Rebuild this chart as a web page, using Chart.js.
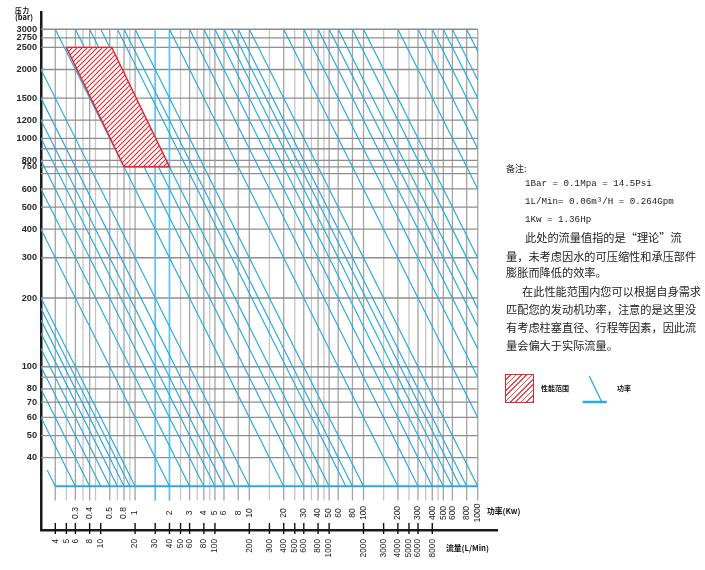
<!DOCTYPE html>
<html><head><meta charset="utf-8">
<script src="https://cdn.jsdelivr.net/npm/chart.js@4/dist/chart.umd.min.js"></script>
<style>
html,body{margin:0;padding:0;background:#fff;}
#wrap{position:relative;width:705px;height:570px;overflow:hidden;}
#c{position:absolute;left:0;top:0;}
.t{position:absolute;white-space:nowrap;color:#222;line-height:1;transform:translateY(-50%);}
.cjk{font-family:"Noto Sans CJK SC",sans-serif;font-size:11.2px;}
.mono{font-family:"Liberation Mono",monospace;font-size:9.2px;}
.lab{font-family:"Noto Sans CJK SC",sans-serif;font-weight:bold;font-size:7.8px;color:#111;}
#hbox{position:absolute;left:505px;top:374px;width:27px;height:27px;border:1.5px solid #e3262f;
 background:repeating-linear-gradient(135deg,#fff 0 2.6px,#ea4b53 2.6px 3.8px);}
#psym{position:absolute;left:580px;top:372px;}
</style></head><body>
<div id="wrap">
<canvas id="c" width="705" height="570"></canvas>
<div class="t lab" style="left:15px;top:10px;font-size:6.5px;letter-spacing:1px;">压力</div>
<div class="t lab" style="left:15px;top:17px;font-size:7.5px;">(bar)</div>
<div class="t lab" style="left:487px;top:511px;">功率(Kw)</div>
<div class="t lab" style="left:446px;top:548px;">流量(L/Min)</div>

<div class="t cjk" style="left:506px;top:168px;font-size:9px;">备注:</div>
<div class="t mono" style="left:525px;top:184px;">1Bar = 0.1Mpa = 14.5Psi</div>
<div class="t mono" style="left:525px;top:202px;">1L/Min= 0.06m³/H = 0.264Gpm</div>
<div class="t mono" style="left:525px;top:220px;">1Kw = 1.36Hp</div>
<div class="t cjk" style="left:525px;top:238px;">此处的流量值指的是“理论”流</div>
<div class="t cjk" style="left:506px;top:257px;">量，未考虑因水的可压缩性和承压部件</div>
<div class="t cjk" style="left:506px;top:273px;">膨胀而降低的效率。</div>
<div class="t cjk" style="left:522px;top:292px;">在此性能范围内您可以根据自身需求</div>
<div class="t cjk" style="left:506px;top:310px;">匹配您的发动机功率，注意的是这里没</div>
<div class="t cjk" style="left:506px;top:328px;">有考虑柱塞直径、行程等因素，因此流</div>
<div class="t cjk" style="left:506px;top:346px;">量会偏大于实际流量。</div>

<div id="hbox"></div>
<div class="t lab" style="left:541px;top:388px;font-size:7px;">性能范围</div>
<svg id="psym" width="30" height="34" viewBox="0 0 30 34">
 <line x1="9.3" y1="4" x2="21.7" y2="29.7" stroke="#29abe2" stroke-width="1.3"/>
 <line x1="2.7" y1="30" x2="26.7" y2="30" stroke="#29abe2" stroke-width="2.5"/>
</svg>
<div class="t lab" style="left:617px;top:388px;font-size:7px;">功率</div>
</div>

<script>
// ---------------- data ----------------
const pressureTicks = [3000,2750,2500,2000,1500,1200,1000,800,750,600,500,400,300,200,100,80,70,60,50,40];
const pressureGrid  = [3000,2750,2500,2000,1500,1200,1000,900,800,750,700,600,500,400,300,200,100,90,80,70,60,50,40];
const flowTicks = [4,5,6,8,10,20,30,40,50,60,80,100,200,300,400,500,600,800,1000,2000,3000,4000,5000,6000,8000];
// vertical grid lines, placed by power (kW) where the power line meets the 30 bar base line
const powerGridMajor = [0.2,0.3,0.4,0.6,0.8,1,2,3,4,5,6,8,10,20,30,40,50,60,80,100,200,300,400,500,600,800,1000];
const powerGridMinor = [0.25,0.35,0.45,0.7,0.9,1.5,2.5,3.5,4.5,15,25,35,45,150,250,350,450];
const powerGridBlue = [1.5,2];
// power scale labels (text) and the grid power they sit on
const powerLabelText = ['0.3','0.4','0.5','0.8','1','2','3','4','5','6','8','10','20','30','40','50','60','80','100','200','300','400','500','600','800','1000'];
const powerLabelAt   = [0.3,0.4,0.6,0.8,1,2,3,4,5,6,8,10,20,30,40,50,60,80,100,200,300,400,500,600,800,1000];
// constant power lines (kW)
const powerLines = [0.2,0.3,0.4,0.5,0.6,0.7,0.8,0.9,1,
  2,3,4,5,6,7.5,10,
  20,30,40,50,70,80,100,
  200,300,400,500,600,700,800,1000,
  2000,3000,4000,5000,6000,8000,10000,
  20000,30000,40000,50000,60000,80000,100000];
// performance range polygon (flow L/min, pressure bar)
const rangeFlow = [5,12.5,40,16,5];
const rangePressure = [2500,2500,750,750,2500];

const flowMin = 3, flowMax = 20000, pressureTop = 3000, basePressure = 30, gridBottomPressure = 26;
const kwFactor = 600;               // P(kW) = p(bar) * Q(L/min) / 600
const flowAtBase = P => kwFactor * P / basePressure;
const firstLineStart = {0.2: 3.4};

// ---------------- build ----------------
function segs(list){ const out=[]; list.forEach(s=>{ out.push(s[0], s[1], {x:s[1].x, y:null}); }); return out; }
const hGrid = segs(pressureGrid.map(p=>[{x:flowMin,y:p},{x:flowMax,y:p}]));
const vMaj = segs(powerGridMajor.map(P=>[{x:flowAtBase(P),y:pressureTop},{x:flowAtBase(P),y:gridBottomPressure}]));
const vMin = segs(powerGridMinor.map(P=>[{x:flowAtBase(P),y:pressureTop},{x:flowAtBase(P),y:gridBottomPressure}]));
const vBlue = segs(powerGridBlue.map(P=>[{x:flowAtBase(P),y:pressureTop},{x:flowAtBase(P),y:gridBottomPressure}]));
const pLines = segs(powerLines.map(P=>{
  const qs = Math.max(firstLineStart[P] || flowMin, kwFactor*P/pressureTop);
  const qe = Math.min(flowMax, flowAtBase(P));
  return [{x:qs,y:kwFactor*P/qs},{x:qe,y:kwFactor*P/qe}];
}));
const baseLine = [{x:flowAtBase(powerGridMajor[0]),y:basePressure},{x:flowMax,y:basePressure}];
const rangePts = rangeFlow.map((q,i)=>({x:q,y:rangePressure[i]}));

const cv = document.getElementById('c');
const ctx0 = cv.getContext('2d');
const pc = document.createElement('canvas'); pc.width = 5; pc.height = 5;
const g = pc.getContext('2d');
g.fillStyle='#fff'; g.fillRect(0,0,5,5);
g.strokeStyle='#e8262f'; g.lineWidth=1.1;
g.beginPath(); g.moveTo(0,5); g.lineTo(5,0); g.moveTo(-1,1); g.lineTo(1,-1); g.moveTo(4,6); g.lineTo(6,4); g.stroke();
const hatch = ctx0.createPattern(pc,'repeat');

const lineDs = (data,color,width)=>({type:'line',data,borderColor:color,borderWidth:width,pointRadius:0,fill:false,tension:0,spanGaps:false});

const overlay = {id:'overlay', afterDraw(chart){
  const {ctx, scales:{x}, chartArea:a} = chart;
  ctx.save();
  ctx.strokeStyle='#111'; ctx.lineWidth=1.4;
  flowTicks.forEach(q=>{ const px=x.getPixelForValue(q); ctx.beginPath(); ctx.moveTo(px,a.bottom-7); ctx.lineTo(px,a.bottom+4); ctx.stroke(); });
  ctx.fillStyle='#222'; ctx.font='8.5px "Liberation Sans", Arial, sans-serif';
  ctx.textAlign='center'; ctx.textBaseline='middle';
  powerLabelAt.forEach((P,i)=>{ const px=x.getPixelForValue(flowAtBase(P));
    ctx.save(); ctx.translate(px, a.bottom-17); ctx.rotate(-Math.PI/2); ctx.fillText(powerLabelText[i],0,0); ctx.restore(); });
  ctx.restore();
}};

new Chart(cv,{
  type:'line',
  data:{datasets:[
    Object.assign(lineDs(rangePts,'#e3262f',1.4),{fill:'shape',backgroundColor:hatch}),
    lineDs(pLines,'#29abe2',1.2),
    lineDs(baseLine,'#29abe2',2.2),
    lineDs(vBlue,'#5cc3ec',1.5),
    lineDs(hGrid,'#8e8e8e',1.3),
    lineDs(vMaj,'#a4a4a4',1.3),
    lineDs(vMin,'#c6c6c6',1.3)
  ]},
  options:{
    responsive:false, animation:false, events:[],
    layout:{padding:{left:0,top:12,right:208,bottom:0}},
    plugins:{legend:{display:false},tooltip:{enabled:false}},
    scales:{
      x:{type:'logarithmic',min:flowMin,max:29500,
        grid:{display:false,drawTicks:false,tickLength:0},border:{display:true,color:'#1a1a1a',width:2.5},
        afterBuildTicks:s=>{ s.ticks = flowTicks.map(v=>({value:v})); },
        afterFit:s=>{ s.height = 40; },
        ticks:{autoSkip:false,minRotation:90,maxRotation:90,padding:9,color:'#222',
          font:{size:8.3,family:'"Liberation Sans", Arial, sans-serif'},callback:v=>String(v)}},
      y:{type:'logarithmic',min:19.3,max:3570,
        grid:{display:false,drawTicks:false,tickLength:0},border:{display:true,color:'#1a1a1a',width:2.5},
        afterBuildTicks:s=>{ s.ticks = pressureTicks.map(v=>({value:v})); },
        afterFit:s=>{ s.width = 41; },
        ticks:{autoSkip:false,padding:4,color:'#2a2a2a',
          font:{size:9.2,weight:'bold',family:'"Liberation Sans", Arial, sans-serif'},callback:v=>String(v)}}
    }
  },
  plugins:[overlay]
});
</script>
</body></html>
